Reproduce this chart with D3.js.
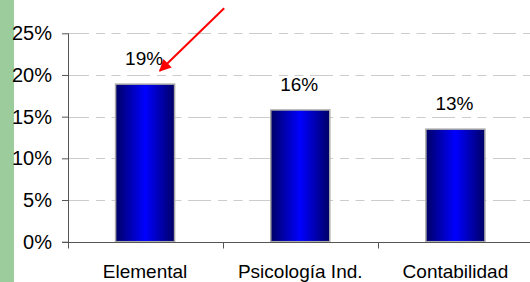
<!DOCTYPE html>
<html><head><meta charset="utf-8">
<script src="https://cdn.jsdelivr.net/npm/d3@7"></script>
<style>html,body{margin:0;padding:0;background:#fff;overflow:hidden}svg{display:block}</style>
</head><body>
<svg id="c" width="530" height="282"></svg>
<script>
const categories = ["Elemental", "Psicología Ind.", "Contabilidad"];
const values = [0.189, 0.158, 0.135];
const valueLabels = ["19%", "16%", "13%"];
const yTicks = [0, 0.05, 0.10, 0.15, 0.20, 0.25];

const svg = d3.select("#c");
const font = "'Liberation Sans', Arial, sans-serif";

svg.append("rect").attr("x",0).attr("y",0).attr("width",14).attr("height",282).attr("fill","#9ccc9c");

const x = d3.scaleBand().domain(categories).range([67.5, 533]).paddingInner(0).paddingOuter(0);
const y = d3.scaleLinear().domain([0, 0.25]).range([241.7, 33.3]);
const bw = 59;

const defs = svg.append("defs");
const g = defs.append("linearGradient").attr("id","bg").attr("x1","0%").attr("x2","100%").attr("y1","0%").attr("y2","0%");
g.append("stop").attr("offset","0%").attr("stop-color","#000066");
g.append("stop").attr("offset","50%").attr("stop-color","#0000ff");
g.append("stop").attr("offset","100%").attr("stop-color","#000066");

defs.append("marker").attr("id","ah").attr("viewBox","0 0 10 10").attr("refX",9).attr("refY",5)
  .attr("markerWidth",7).attr("markerHeight",6).attr("markerUnits","strokeWidth").attr("orient","auto")
  .append("path").attr("d","M0,0 L10,5 L0,10 z").attr("fill","#ff0000");

// gridlines
svg.append("g").selectAll("line").data(yTicks.filter(d=>d>0)).join("line")
  .attr("x1", 68).attr("x2", 533).attr("y1", d=>Math.round(y(d))+0.5).attr("y2", d=>Math.round(y(d))+0.5)
  .attr("stroke","#cccccc").attr("stroke-width",1.2)
  .attr("stroke-dasharray","23,7,9,6.5,9,6.5").attr("stroke-dashoffset",-59);

// bars
svg.append("g").selectAll("rect").data(categories).join("rect")
  .attr("x", d=>x(d)+x.bandwidth()/2-bw/2)
  .attr("y", (d,i)=>y(values[i]))
  .attr("width", bw)
  .attr("height", (d,i)=>y(0)-y(values[i]))
  .attr("fill","url(#bg)").attr("stroke","#a8a8a8").attr("stroke-width",1.5);

// value labels
svg.append("g").selectAll("text").data(categories).join("text")
  .attr("x", d=>x(d)+x.bandwidth()/2-1)
  .attr("y", (d,i)=>y(values[i])-19)
  .attr("text-anchor","middle").attr("font-family",font).attr("font-size",19).attr("fill","#000")
  .text((d,i)=>valueLabels[i]);

// y axis
const yAxis = d3.axisLeft(y).tickValues(yTicks).tickFormat(d3.format(".0%")).tickSize(6).tickPadding(10);
const ya = svg.append("g").attr("transform","translate(68,0)").call(yAxis);
ya.select(".domain").attr("d","M0.5,33.3V248").attr("stroke","#555");
ya.selectAll(".tick line").attr("stroke","#555");
ya.selectAll(".tick text").attr("font-family",font).attr("font-size",20).attr("fill","#000");

// x axis
const xa = svg.append("g").attr("transform",`translate(0,${Math.round(y(0))+0.5})`);
xa.append("line").attr("x1",62).attr("x2",533).attr("stroke","#555");
const bounds = categories.map(d=>x(d)).concat([x.range()[1]]);
xa.selectAll("line.t").data(bounds).join("line").attr("class","t")
  .attr("x1",d=>Math.round(d)+0.5).attr("x2",d=>Math.round(d)+0.5).attr("y1",0).attr("y2",6).attr("stroke","#555");
xa.selectAll("text").data(categories).join("text")
  .attr("x", d=>x(d)+x.bandwidth()/2).attr("y", 35.5)
  .attr("text-anchor","middle").attr("font-family",font).attr("font-size",19).attr("fill","#000")
  .text(d=>d);

// annotation arrow
svg.append("line")
  .attr("x1", x(categories[1])+1.5).attr("y1", y(0.28))
  .attr("x2", x(categories[0])+x.bandwidth()*0.595).attr("y2", y(0.205))
  .attr("stroke","#ff0000").attr("stroke-width",2).attr("marker-end","url(#ah)");
</script>
</body></html>
